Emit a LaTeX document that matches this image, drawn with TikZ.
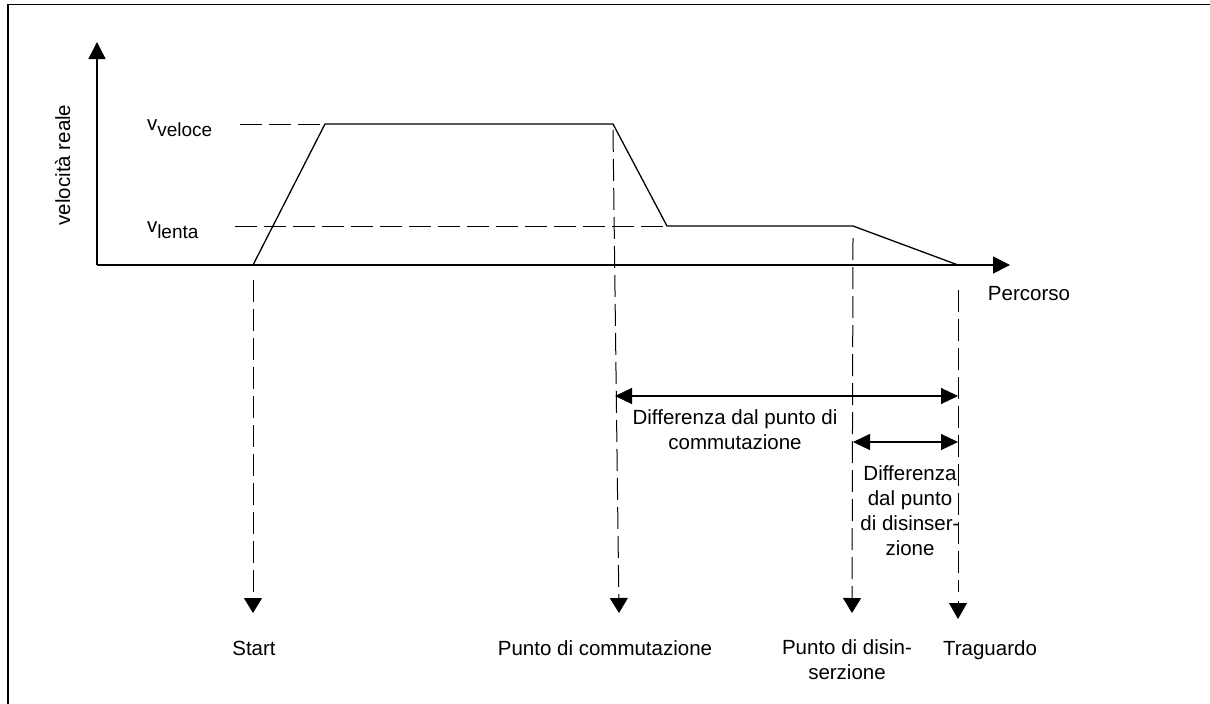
\documentclass[tikz,border=0pt]{standalone}
\usepackage{fontspec}
\setmainfont{Liberation Sans}
\usetikzlibrary{arrows.meta}
\begin{document}
\begin{tikzpicture}[x=1pt,y=-1pt,
  every node/.style={inner sep=0pt,outer sep=0pt,font=\fontsize{20.5}{25}\selectfont},
  frameline/.style={line width=1.6pt},
  axisline/.style={line width=1.5pt,-{Triangle[width=17pt,length=17pt]}},
  profile/.style={line width=1.3pt,line join=miter},
  guide/.style={line width=1pt,dash pattern=on 22pt off 7pt},
  droparrow/.style={line width=1pt,dash pattern=on 22pt off 7pt,-{Triangle[width=18pt,length=15pt]}},
  spanarrow/.style={line width=1.2pt,{Triangle[width=16pt,length=17pt]}-{Triangle[width=16pt,length=17pt]}},
  lbl/.style={align=center}]
\useasboundingbox (0,0) rectangle (1210,704);

% partial frame
\draw[frameline] (8,704) -- (8,4.5) -- (1210,4.5);

% axes
\coordinate (O) at (97,265);
\coordinate (ytop) at (97,42);
\coordinate (xend) at (1010,265);
\draw[axisline] (O) -- (ytop);
\draw[axisline] (O) -- (xend);

% speed profile
\coordinate (p0) at (253,265);
\coordinate (p1) at (325,124);
\coordinate (p2) at (613,124);
\coordinate (p3) at (667,226);
\coordinate (p4) at (853,226);
\coordinate (p5) at (958,265);
\draw[profile] (p0) -- (p1) -- (p2) -- (p3) -- (p4) -- (p5);

% speed levels
\coordinate (vfast) at (240,124);
\coordinate (vslow) at (235,226);
\draw[guide] (vfast) -- (p1);
\draw[guide] (vslow) -- (p3);

% axis labels
\node[rotate=90,anchor=base] (ylab) at (70,165) {velocità reale};
\node[anchor=base] (xlab) at (1029,300) {Percorso};
\node[anchor=base west] (lfast) at (147,130) {v\raisebox{-6pt}{\fontsize{19}{19}\selectfont veloce}};
\node[anchor=base west] (lslow) at (147,232) {v\raisebox{-6pt}{\fontsize{19}{19}\selectfont lenta}};

% bottom labels
\node[anchor=base] (start) at (254,655) {Start};
\node[anchor=base] (comm) at (605,655) {Punto di commutazione};
\node[lbl,anchor=north] (dis) at (847,640) {Punto di disin-\\serzione};
\node[anchor=base] (goal) at (990,655) {Traguardo};

% drop lines to the events
\coordinate (s0) at (253,280);
\coordinate (s1) at (253,613);
\coordinate (c0) at (613,130);
\coordinate (c1) at (619,613);
\coordinate (d0) at (853,238);
\coordinate (d1) at (852,613);
\coordinate (g0) at (958,290);
\coordinate (g1) at (958,592);
\coordinate (g2) at (958,601);
\coordinate (g3) at (958,619);
\draw[droparrow] (s0) -- (s1);
\draw[droparrow] (c0) -- (c1);
\draw[droparrow] (d0) -- (d1);
\draw[guide] (g0) -- (g1);
\draw[line width=1pt,-{Triangle[width=18pt,length=16pt]}] (g2) -- (g3);

% distance spans
\coordinate (a0) at (615,396);
\coordinate (a1) at (958,396);
\coordinate (b0) at (853,442);
\coordinate (b1) at (958,442);
\draw[spanarrow] (a0) -- (a1);
\draw[spanarrow] (b0) -- (b1);
\node[lbl,anchor=north] (spanA) at (735,410) {Differenza dal punto di\\commutazione};
\node[lbl,anchor=north] (spanB) at (910,466) {Differenza\\dal punto\\di disinser-\\zione};
\end{tikzpicture}
\end{document}
